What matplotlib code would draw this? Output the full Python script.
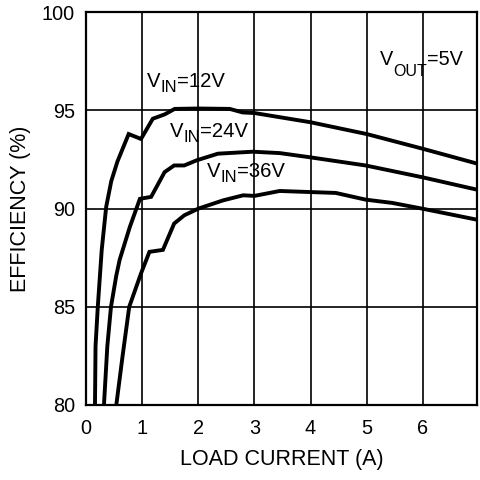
import matplotlib
matplotlib.use("Agg")
import matplotlib.pyplot as plt
from matplotlib.transforms import offset_copy

plt.rcParams['font.family'] = ['Liberation Sans', 'DejaVu Sans']

# Data
x_12v = [0.16, 0.17, 0.21, 0.28, 0.36, 0.45, 0.56, 0.76, 0.98, 1.19, 1.40, 1.58, 2.0, 2.56, 2.79, 3.0, 4.0, 5.0, 6.0, 6.96]
y_12v = [80.0, 83.0, 85.0, 87.9, 90.1, 91.4, 92.4, 93.8, 93.55, 94.58, 94.8, 95.08, 95.1, 95.08, 94.9, 94.87, 94.4, 93.8, 93.05, 92.3]

x_24v = [0.32, 0.38, 0.445, 0.54, 0.6, 0.78, 0.96, 1.16, 1.40, 1.57, 1.75, 1.97, 2.35, 2.97, 3.45, 3.98, 4.98, 5.99, 6.96]
y_24v = [80.0, 83.0, 85.0, 86.6, 87.4, 89.06, 90.5, 90.6, 91.86, 92.2, 92.2, 92.46, 92.8, 92.9, 92.83, 92.62, 92.2, 91.6, 90.97]

x_36v = [0.54, 0.65, 0.77, 0.98, 1.13, 1.37, 1.57, 1.75, 2.0, 2.44, 2.8, 3.0, 3.45, 4.45, 4.98, 5.46, 5.99, 6.96]
y_36v = [80.0, 82.46, 85.0, 86.7, 87.8, 87.9, 89.24, 89.66, 90.0, 90.42, 90.68, 90.65, 90.9, 90.8, 90.46, 90.29, 90.0, 89.44]

x_ticks = [0, 1, 2, 3, 4, 5, 6]
y_ticks = [80, 85, 90, 95, 100]

fig = plt.figure(figsize=(4.8, 4.8), dpi=100)
ax = fig.add_axes([86/480, 75/480, (476.7-86)/480, (405-12.3)/480])

for xs, ys in [(x_12v, y_12v), (x_24v, y_24v), (x_36v, y_36v)]:
    ax.plot(xs, ys, color='black', lw=2.8, solid_joinstyle='miter', clip_on=True)

ax.set_xlim(0, 6.96)
ax.set_ylim(80, 100)
ax.set_xticks(x_ticks)
ax.set_yticks(y_ticks)
ax.tick_params(length=0, labelsize=14.3, colors='black')
ax.tick_params(axis='x', pad=10)
ax.tick_params(axis='y', pad=8)
ax.grid(True, color='black', lw=1.2)
ax.set_axisbelow(True)
for s in ax.spines.values():
    s.set_linewidth(1.6)
    s.set_color('black')

ax.set_xlabel('LOAD CURRENT (A)', fontsize=15.5, labelpad=8)
ax.set_ylabel('EFFICIENCY (%)', fontsize=15.5, labelpad=8)

renderer = fig.canvas.get_renderer()


def sub_label(x, y, main, sub, rest, size=14.6, subsize=12.0, shift_px=5):
    t1 = ax.text(x, y, main, fontsize=size, ha='left', va='baseline')
    w1 = t1.get_window_extent(renderer).width
    tr2 = offset_copy(ax.transData, fig=fig, x=w1, y=-shift_px, units='dots')
    t2 = ax.text(x, y, sub, fontsize=subsize, ha='left', va='baseline', transform=tr2)
    w2 = t2.get_window_extent(renderer).width
    tr3 = offset_copy(ax.transData, fig=fig, x=w1 + w2, y=0, units='dots')
    ax.text(x, y, rest, fontsize=size, ha='left', va='baseline', transform=tr3)


sub_label(1.08, 96.18, 'V', 'IN', '=12V')
sub_label(1.50, 93.66, 'V', 'IN', '=24V')
sub_label(2.16, 91.62, 'V', 'IN', '=36V')
sub_label(5.24, 97.33, 'V', 'OUT', '=5V', size=14.3, subsize=11.5, shift_px=11)

fig.savefig('out.png', dpi=100)
